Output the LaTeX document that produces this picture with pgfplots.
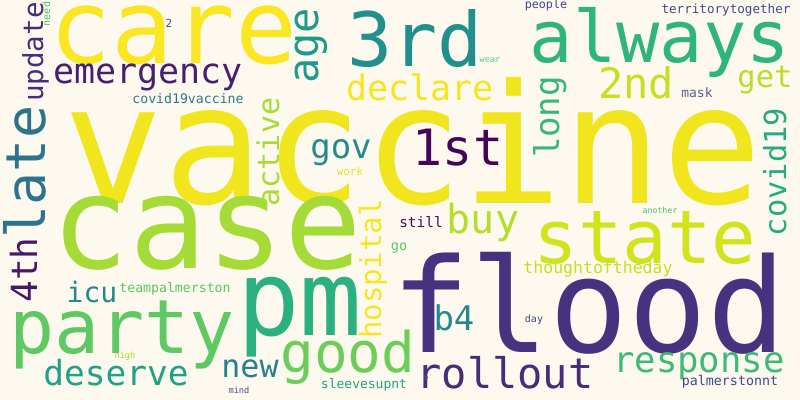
\documentclass[border=0pt]{standalone}
\usepackage{fontspec}
\usepackage{pgfplots}
\pgfplotsset{compat=1.18}
\newfontfamily\wc{DejaVu Sans Mono}
\definecolor{bg}{HTML}{FDF9EF}
% x, y (baseline centre, image pixels), size, colour, angle, word
\newcommand{\w}[6]{%
  \definecolor{c#6}{HTML}{#4}%
  \addplot[only marks, mark=none, point meta=explicit symbolic, nodes near coords,
    every node near coord/.style={anchor=base, inner sep=0pt, outer sep=0pt,
      font=\wc\fontsize{#3bp}{#3bp}\selectfont, text=c#6, rotate=#5}]
    coordinates {(#1,#2) [#6]};}
\begin{document}
\begin{tikzpicture}
\path[use as bounding box, fill=bg] (0,0) rectangle (800bp,400bp);
\begin{axis}[at={(0,0)}, anchor=south west, width=800bp, height=400bp,
  scale only axis, xmin=0, xmax=800, ymin=0, ymax=400, y dir=reverse,
  hide axis, clip=false]
\w{413}{203}{166}{F1E51D}{0}{vaccine}
\w{174}{63}{103}{FAE622}{0}{care}
\w{415}{66}{75}{21908D}{0}{3rd}
\w{660}{62}{72}{2FB47C}{0}{always}
\w{148}{83}{35}{481F70}{0}{emergency}
\w{318}{46}{42}{1F998A}{90}{age}
\w{420}{100}{35}{F6E620}{0}{declare}
\w{636}{98}{42}{C5E021}{0}{2nd}
\w{765}{87}{30.5}{BADE28}{0}{get}
\w{697}{97}{13}{5B5B95}{0}{mask}
\w{546}{8}{11.7}{404688}{0}{people}
\w{726}{13}{12.6}{3E4989}{0}{territorytogether}
\w{490}{62}{8.7}{5CC8A0}{0}{wear}
\w{559}{117}{34}{35B779}{90}{long}
\w{786}{172}{30.4}{25AB82}{90}{covid19}
\w{458}{165}{50}{450457}{0}{1st}
\w{341}{158}{34}{228C8D}{0}{gov}
\w{279}{152}{30}{A8DB34}{90}{active}
\w{43}{52}{27.5}{472D7B}{90}{update}
\w{45}{172}{55}{2C738E}{90}{late}
\w{37}{270}{36}{481769}{90}{4th}
\w{50}{14}{10}{4AC16D}{90}{need}
\w{92}{302}{28}{23888E}{0}{icu}
\w{175}{292}{13.2}{5AC864}{0}{teampalmerston}
\w{207}{268}{129}{A5DB36}{0}{case}
\w{122}{353}{75}{5EC962}{0}{party}
\w{300}{335}{104}{2BB07F}{0}{pm}
\w{348}{372}{56}{6CCD5A}{0}{good}
\w{116}{385}{34.5}{1FA088}{0}{deserve}
\w{250}{377}{31.7}{27808E}{0}{new}
\w{381}{269}{29}{F8E621}{90}{hospital}
\w{125}{358}{8.7}{A8DB34}{0}{high}
\w{239}{393}{8.7}{46508D}{0}{mind}
\w{364}{388}{13}{20A386}{0}{sleevesupnt}
\w{399}{250}{13.6}{5DC863}{0}{go}
\w{421}{227}{14.4}{460B5E}{0}{still}
\w{483}{233}{40}{B5DE2B}{0}{buy}
\w{645}{263}{74}{D2E21B}{0}{state}
\w{660}{213}{8.3}{4AC16D}{0}{another}
\w{589}{352}{131}{46337F}{0}{flood}
\w{454}{330}{34}{23898E}{0}{b4}
\w{598}{273}{16.5}{C5E021}{0}{thoughtoftheday}
\w{534}{322}{10}{414487}{0}{day}
\w{505}{388}{42}{472C7A}{0}{rollout}
\w{699}{372}{35.6}{3BBB75}{0}{response}
\w{730}{385}{13.3}{3F4889}{0}{palmerstonnt}
\w{428}{378}{8}{6A5AA0}{90}{u}
\w{188}{103}{13.2}{2A788E}{0}{covid19vaccine}
\w{169}{27}{11}{3B528B}{0}{2}
\w{350}{175}{10.8}{E2E418}{0}{work}
\end{axis}
\end{tikzpicture}
\end{document}
